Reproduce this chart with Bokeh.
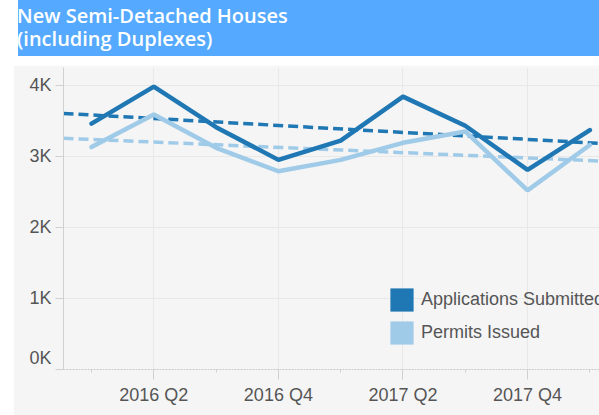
import numpy as np
from bokeh.plotting import figure
from bokeh.models import (FixedTicker, Legend, LegendItem, LinearAxis, Div, Spacer)
from bokeh.layouts import column, row
from bokeh.embed import file_html
from bokeh.resources import INLINE

# ---- data ----
quarters = ["2016 Q1", "2016 Q2", "2016 Q3", "2016 Q4", "2017 Q1",
            "2017 Q2", "2017 Q3", "2017 Q4", "2018 Q1"]
applications = [3460, 3980, 3410, 2950, 3220, 3840, 3430, 2810, 3370]
permits = [3130, 3590, 3120, 2790, 2950, 3190, 3350, 2520, 3160]
series_names = ["Applications Submitted", "Permits Issued"]
y_ticks = [0, 1000, 2000, 3000, 4000]
y_tick_labels = ["0K", "1K", "2K", "3K", "4K"]
labelled_quarters = [1, 3, 5, 7]
title_lines = ["New Semi-Detached Houses", "(including Duplexes)"]

DARK = "#1f77b4"
LIGHT = "#a0cbe8"
TEXT = "#555555"
GRID = "#e8e8e8"
AX = "#d0d0d0"
BG = "#f5f5f5"
TITLE_BG = "#55aaff"
FONT = "Liberation Sans"

x = list(range(len(quarters)))
X_START, X_END = -0.45, 8.155
Y_END = 4250
FRAME_H = 302

p = figure(width=586, height=352, x_range=(X_START, X_END), y_range=(0, Y_END),
           output_backend="svg", toolbar_location=None,
           min_border_left=50, min_border_right=0, min_border_top=2,
           min_border_bottom=48)
p.background_fill_color = BG
p.border_fill_color = BG
p.outline_line_color = None

# trend lines (least squares fit of each series)
tx = np.array([X_START, X_END])
for vals, col in [(permits, LIGHT), (applications, DARK)]:
    coef = np.polyfit(x, vals, 1)
    p.line(tx, np.polyval(coef, tx), line_color=col, line_width=3.5,
           line_dash="10 5")

p.line(x, permits, line_color=LIGHT, line_width=4.5, line_cap="round")
p.line(x, applications, line_color=DARK, line_width=4.5, line_cap="round")

# x axis
xa = p.xaxis[0]
xa.ticker = FixedTicker(ticks=labelled_quarters,
                        minor_ticks=[i for i in x if i not in labelled_quarters])
xa.major_label_overrides = {i: quarters[i] for i in labelled_quarters}
xa.axis_line_color = "#c8c8c8"
xa.axis_line_dash = "2 1"
xa.major_tick_line_color = AX
xa.minor_tick_line_color = AX
xa.major_tick_in = 0
xa.major_tick_out = 10
xa.minor_tick_in = 0
xa.minor_tick_out = 3
xa.major_label_standoff = 5
xa.major_label_text_font = FONT
xa.major_label_text_font_size = "18px"
xa.major_label_text_color = TEXT

# y axis: inner axis draws the line and ticks only
ya = p.yaxis[0]
ya.ticker = FixedTicker(ticks=y_ticks)
ya.major_label_overrides = {t: "" for t in y_ticks}
ya.axis_line_color = AX
ya.major_tick_line_color = AX
ya.major_tick_in = 0
ya.major_tick_out = 8
ya.minor_tick_line_color = None
ya.major_label_standoff = 0
ya.major_label_text_font_size = "1px"

# outer axis carries the labels; the lowest one sits 12px above its line
lift = 12 * Y_END / FRAME_H
label_pos = [t if t != 0 else lift for t in y_ticks]
ylab = LinearAxis(ticker=FixedTicker(ticks=label_pos),
                  major_label_overrides={pos: lab for pos, lab in zip(label_pos, y_tick_labels)},
                  axis_line_color=None, major_tick_line_color=None,
                  minor_tick_line_color=None, major_tick_in=0, major_tick_out=0,
                  major_label_standoff=4, major_label_text_font=FONT,
                  major_label_text_font_size="18px",
                  major_label_text_color=TEXT)
p.add_layout(ylab, "left")

p.xgrid.grid_line_color = GRID
p.ygrid.grid_line_color = GRID
p.ygrid.ticker = FixedTicker(ticks=y_ticks)

# legend with square swatches (renderers with no visible data)
nan = [float("nan")]
sq_dark = p.quad(left=nan, right=nan, top=nan, bottom=nan,
                 fill_color=DARK, line_color=None)
sq_light = p.quad(left=nan, right=nan, top=nan, bottom=nan,
                  fill_color=LIGHT, line_color=None)
legend = Legend(items=[LegendItem(label=series_names[0], renderers=[sq_dark]),
                       LegendItem(label=series_names[1], renderers=[sq_light])],
                location=(324, 22), padding=0, margin=0, spacing=4,
                glyph_width=29, glyph_height=29, label_standoff=5,
                label_text_font=FONT, label_text_font_size="18px",
                label_text_color=TEXT, background_fill_alpha=0,
                border_line_color=None)
p.add_layout(legend)

title_html = ('<div style="color:#ffffff;font-family:\'Open Sans\';'
              'font-weight:600;font-size:20px;line-height:23px;'
              'padding:7px 0 0 0;margin-left:-1px;">'
              + title_lines[0] + '<br>' + title_lines[1] + '</div>')
div = Div(text=title_html, width=586, height=59,
          styles={"background-color": TITLE_BG})

inner = column(div, Spacer(height=4), p)
layout = row(Spacer(width=13), inner,
             styles={"margin-top": "-8px", "margin-bottom": "-8px"})

open("out.html", "w").write(file_html(layout, INLINE))
